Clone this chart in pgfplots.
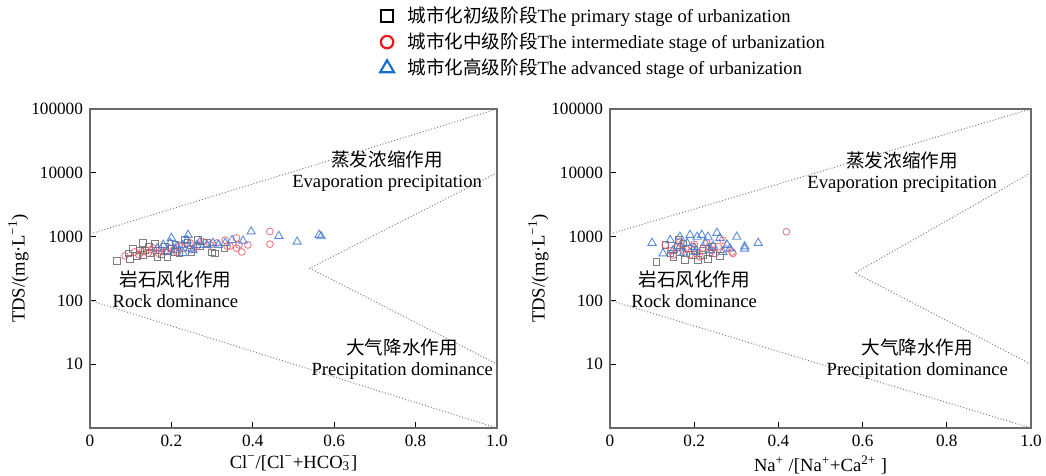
\documentclass[border=0pt]{standalone}
\usepackage{fontspec}
\setmainfont{Liberation Serif}
\newfontfamily\cjk{Noto Sans CJK SC}
\usepackage{pgfplots}
\pgfplotsset{compat=1.18}
\definecolor{sqc}{RGB}{105,105,105}
\definecolor{circ}{RGB}{228,100,112}
\definecolor{tric}{RGB}{65,120,210}
\definecolor{lgred}{RGB}{235,25,25}
\definecolor{lgblue}{RGB}{25,110,205}
\definecolor{axc}{RGB}{105,105,105}
\tikzset{ann/.style={align=center, font=\fontsize{9.3}{10.5}\selectfont}}
\pgfplotsset{
 legend image code/.code={\path (-0.2cm,0) (0.28cm,0); \draw[#1] plot coordinates {(0cm,0cm)};},
 gline/.style={gray, densely dotted, line width=0.5pt},
 sqm/.style={only marks, mark=square, mark size=1.6pt, mark options={draw=sqc, line width=0.45pt, draw opacity=0.85}, forget plot},
 cim/.style={only marks, mark=o, mark size=1.7pt, mark options={draw=circ, line width=0.45pt, draw opacity=0.85}, forget plot},
 trm/.style={only marks, mark=triangle, mark size=2.4pt, mark options={draw=tric, line width=0.45pt, draw opacity=0.85}, forget plot},
}
\begin{document}
\begin{tikzpicture}
% ---------------- left panel ----------------
\begin{semilogyaxis}[scale only axis, width=203.5pt, height=159.5pt,
  xmin=0, xmax=1, ymin=1, ymax=100000,
  xtick={0,0.2,0.4,0.6,0.8,1}, xticklabels={0,0.2,0.4,0.6,0.8,1.0},
  ytick={10,100,1000,10000,100000}, yticklabels={10,100,1000,10000,100000},
  minor tick num=0, yminorticks=false,
  tick align=inside, tick pos=left, major tick length=3pt,
  axis line style={axc, line width=0.7pt},
  every tick/.style={black, line width=0.6pt},
  every tick label/.append style={font=\fontsize{8.6}{10}\selectfont},
  every axis label/.append style={font=\fontsize{9.3}{11}\selectfont},
  ylabel={TDS/(mg·L\textsuperscript{−1})}, ylabel shift=-5.5pt,
  xlabel={Cl\textsuperscript{−}/[Cl\textsuperscript{−}+HCO\rlap{\textsubscript{3}}\textsuperscript{−}]}, xlabel shift=-2.5pt,
  legend style={at={(rel axis cs:0.70,1.335)}, anchor=north west, draw=none, fill=none, inner sep=0pt,
    row sep=-0.3pt, font=\fontsize{9.3}{11}\selectfont, cells={anchor=west}},
]
\addlegendimage{only marks, mark=square, mark size=3.1pt, mark options={draw=black, line width=1.1pt}}
\addlegendentry{{\cjk 城市化初级阶段}The primary stage of urbanization}
\addlegendimage{only marks, mark=o, mark size=3.1pt, mark options={draw=lgred, line width=1.1pt}}
\addlegendentry{{\cjk 城市化中级阶段}The intermediate stage of urbanization}
\addlegendimage{only marks, mark=triangle, mark size=4pt, mark options={draw=lgblue, line width=1.1pt}}
\addlegendentry{{\cjk 城市化高级阶段}The advanced stage of urbanization}

\addplot[gline, forget plot] coordinates {(0,1100) (1,100000)};
\addplot[gline, forget plot] coordinates {(0,100) (1,1)};
\addplot[gline, forget plot] coordinates {(1,10000) (0.54,320) (1,10)};

\addplot[sqm] table {
x y
0.066 415
0.094 545
0.098 447
0.106 640
0.115 500
0.123 610
0.13 795
0.13 515
0.135 610
0.145 700
0.147 550
0.16 770
0.165 480
0.172 610
0.175 520
0.184 700
0.19 480
0.2 650
0.209 575
0.21 740
0.22 545
0.233 880
0.24 800
0.25 575
0.265 910
0.27 700
0.287 795
0.30 570
0.307 545
0.33 650
};
\addplot[cim] table {
x y
0.086 500
0.11 575
0.12 520
0.128 575
0.143 550
0.15 620
0.155 660
0.168 550
0.175 600
0.184 575
0.197 660
0.205 620
0.213 575
0.22 720
0.23 660
0.246 795
0.255 640
0.263 700
0.278 830
0.295 740
0.312 795
0.332 880
0.337 710
0.344 710
0.36 950
0.36 660
0.366 740
0.373 575
0.388 740
0.442 1200
0.442 760
};
\addplot[trm] table {
x y
0.165 650
0.18 740
0.19 575
0.197 795
0.2 950
0.21 620
0.213 700
0.226 740
0.229 550
0.238 880
0.241 1060
0.245 650
0.253 610
0.263 740
0.27 820
0.287 740
0.302 795
0.315 740
0.332 795
0.349 880
0.376 860
0.396 1200
0.464 1020
0.509 830
0.563 1060
0.568 1010
};
\node[ann] at (axis cs:0.73,10500) {{\cjk 蒸发浓缩作用}\\Evaporation precipitation};
\node[ann] at (axis cs:0.21,148) {{\cjk 岩石风化作用}\\Rock dominance};
\node[ann] at (axis cs:0.767,11.9) {{\cjk 大气降水作用}\\Precipitation dominance};
\end{semilogyaxis}
% ---------------- right panel ----------------
\begin{semilogyaxis}[scale only axis, width=210.5pt, height=159.5pt, xshift=260pt,
  xmin=0, xmax=1, ymin=1, ymax=100000,
  xtick={0,0.2,0.4,0.6,0.8,1}, xticklabels={0,0.2,0.4,0.6,0.8,1.0},
  ytick={10,100,1000,10000,100000}, yticklabels={10,100,1000,10000,100000},
  minor tick num=0, yminorticks=false,
  tick align=inside, tick pos=left, major tick length=3pt,
  axis line style={axc, line width=0.7pt},
  every tick/.style={black, line width=0.6pt},
  every tick label/.append style={font=\fontsize{8.6}{10}\selectfont},
  every axis label/.append style={font=\fontsize{9.3}{11}\selectfont},
  ylabel={TDS/(mg·L\textsuperscript{−1})}, ylabel shift=-5.5pt,
  xlabel={Na\textsuperscript{+} /[Na\textsuperscript{+}+Ca\textsuperscript{2+} ]}, xlabel shift=-2.5pt,
]
\addplot[gline] coordinates {(0,1100) (1,100000)};
\addplot[gline] coordinates {(0,100) (1,1)};
\addplot[gline] coordinates {(1,10000) (0.582,270) (1,10)};

\addplot[sqm] table {
x y
0.111 400
0.131 740
0.143 545
0.15 480
0.16 690
0.162 880
0.166 575
0.175 780
0.178 430
0.185 650
0.197 515
0.2 620
0.209 430
0.22 600
0.221 515
0.233 445
0.242 700
0.245 545
0.261 500
};
\addplot[cim] table {
x y
0.131 740
0.145 600
0.15 515
0.159 660
0.166 830
0.173 610
0.18 650
0.19 515
0.195 700
0.2 760
0.207 545
0.214 480
0.221 660
0.23 795
0.235 690
0.242 610
0.25 545
0.257 700
0.268 880
0.275 640
0.29 575
0.292 545
0.419 1190
};
\addplot[trm] table {
x y
0.10 795
0.126 545
0.143 880
0.15 610
0.166 990
0.166 700
0.175 560
0.183 795
0.19 1060
0.2 680
0.202 575
0.207 990
0.218 1060
0.226 795
0.233 990
0.238 610
0.245 720
0.254 1140
0.261 950
0.268 575
0.278 740
0.285 650
0.301 990
0.32 700
0.32 645
0.352 795
};
\node[ann] at (axis cs:0.694,10200) {{\cjk 蒸发浓缩作用}\\Evaporation precipitation};
\node[ann] at (axis cs:0.20,148) {{\cjk 岩石风化作用}\\Rock dominance};
\node[ann] at (axis cs:0.73,11.9) {{\cjk 大气降水作用}\\Precipitation dominance};
\end{semilogyaxis}
\pgfresetboundingbox
\path[use as bounding box] (-45pt,-24pt) rectangle (478pt,214pt);
\end{tikzpicture}
\end{document}
